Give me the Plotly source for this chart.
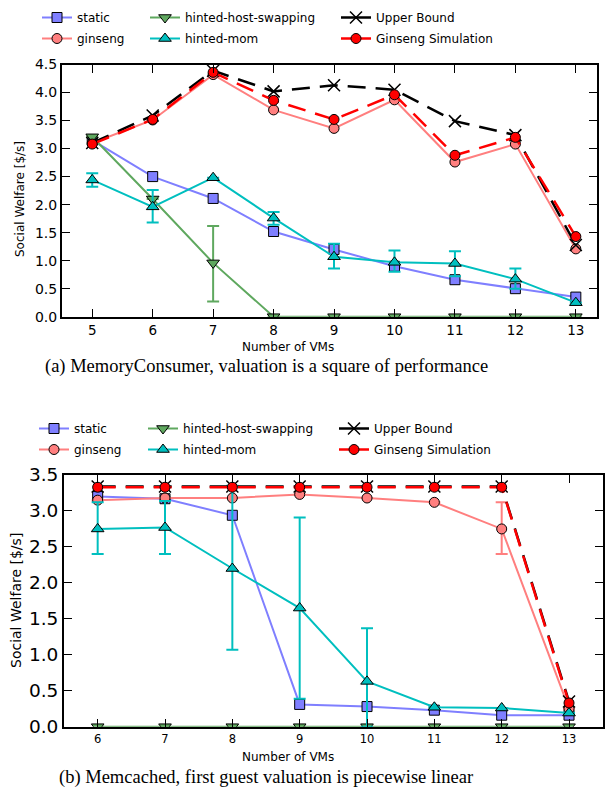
import plotly.graph_objects as go

W, H = 607, 798

# ---------------- data: (a) MemoryConsumer ----------------
vms_a = [5, 6, 7, 8, 9, 10, 11, 12, 13]
static_a = [3.15, 2.50, 2.11, 1.52, 1.20, 0.90, 0.66, 0.50, 0.35]
ginseng_a = [3.10, 3.51, 4.32, 3.69, 3.36, 3.87, 2.76, 3.08, 1.21]
hhs_a = [3.21, 2.10, 0.96, 0.0, 0.0, 0.0, 0.0, 0.0, 0.0]
hhs_a_hi = [3.21, 2.10, 1.62, 0.0, 0.0, 0.0, 0.0, 0.0, 0.0]
hhs_a_lo = [3.21, 2.10, 0.27, 0.0, 0.0, 0.0, 0.0, 0.0, 0.0]
mom_a = [2.44, 1.96, 2.48, 1.76, 1.07, 0.97, 0.95, 0.67, 0.25]
mom_a_hi = [2.56, 2.26, 2.48, 1.87, 1.30, 1.18, 1.17, 0.86, 0.25]
mom_a_lo = [2.32, 1.68, 2.48, 1.64, 0.86, 0.80, 0.72, 0.50, 0.25]
ub_a = [3.10, 3.59, 4.39, 4.02, 4.13, 4.05, 3.49, 3.24, 1.28]
sim_a = [3.08, 3.52, 4.36, 3.86, 3.52, 3.96, 2.88, 3.20, 1.43]

# ---------------- data: (b) Memcached ----------------
vms_b = [6, 7, 8, 9, 10, 11, 12, 13]
static_b = [3.20, 3.17, 2.94, 0.31, 0.28, 0.23, 0.16, 0.16]
ginseng_b = [3.15, 3.18, 3.18, 3.23, 3.18, 3.12, 2.75, 0.25]
ginseng_b_hi = [3.15, 3.18, 3.18, 3.23, 3.18, 3.12, 3.12, 0.25]
ginseng_b_lo = [3.15, 3.18, 3.18, 3.23, 3.18, 3.12, 2.40, 0.25]
hhs_b = [0.0, 0.0, 0.0, 0.0, 0.0, 0.0, 0.0, 0.0]
mom_b = [2.75, 2.77, 2.20, 1.65, 0.63, 0.27, 0.26, 0.19]
mom_b_hi = [3.12, 3.14, 3.35, 2.91, 1.37, 0.27, 0.26, 0.19]
mom_b_lo = [2.40, 2.40, 1.07, 0.39, 0.0, 0.27, 0.26, 0.19]
ub_b = [3.34, 3.34, 3.34, 3.34, 3.34, 3.34, 3.34, 0.35]
sim_b = [3.33, 3.33, 3.33, 3.33, 3.33, 3.33, 3.33, 0.33]

names = ["static", "ginseng", "hinted-host-swapping", "hinted-mom",
         "Upper Bound", "Ginseng Simulation"]
caption_a = "(a) MemoryConsumer, valuation is a square of performance"
caption_b = "(b) Memcached, first guest valuation is piecewise linear"

C_STATIC = "#7f7fff"
C_GINSENG = "#ff7f7f"
C_HHS = "#5fa85f"
C_MOM = "#00bfbf"
C_UB = "#000000"
C_SIM = "#ff0000"

EDGE = dict(color="black", width=1)
styles = [
    dict(line=dict(color=C_STATIC, width=2),
         marker=dict(symbol="square", size=10, color=C_STATIC, line=EDGE)),
    dict(line=dict(color=C_GINSENG, width=2),
         marker=dict(symbol="circle", size=10, color=C_GINSENG, line=EDGE)),
    dict(line=dict(color=C_HHS, width=2),
         marker=dict(symbol="triangle-down", size=11, color=C_HHS, line=EDGE)),
    dict(line=dict(color=C_MOM, width=2),
         marker=dict(symbol="triangle-up", size=11, color=C_MOM, line=EDGE)),
    dict(line=dict(color=C_UB, width=2.5, dash="18px,10px"),
         marker=dict(symbol="x-thin", size=12, color=C_UB, line=dict(color=C_UB, width=1.5))),
    dict(line=dict(color=C_SIM, width=2.5, dash="18px,10px"),
         marker=dict(symbol="circle", size=10, color=C_SIM, line=EDGE)),
]

fig = go.Figure()


def err(y, hi, lo, color):
    return dict(type="data", symmetric=False,
                array=[h - v for h, v in zip(hi, y)],
                arrayminus=[v - l for v, l in zip(y, lo)],
                color=color, thickness=2, width=6)


def add_set(xv, xa, ya, leg_ids, series, errs):
    for i, (yv, e) in enumerate(zip(series, errs)):
        st = styles[i]
        fig.add_trace(go.Scatter(x=xv, y=yv, name=names[i], xaxis=xa, yaxis=ya,
                                 mode="lines+markers", showlegend=False,
                                 line=st["line"], marker=st["marker"], error_y=e))
    # legend-only entries (solid line sample like the reference)
    for i in range(6):
        st = styles[i]
        ln = dict(st["line"])
        ln.pop("dash", None)
        fig.add_trace(go.Scatter(x=[None], y=[None], name=names[i], xaxis=xa, yaxis=ya,
                                 mode="lines+markers", showlegend=True,
                                 legend=leg_ids[i], line=ln, marker=st["marker"]))


add_set(vms_a, "x", "y",
        ["legend", "legend2", "legend3", "legend4", "legend5", "legend6"],
        [static_a, ginseng_a, hhs_a, mom_a, ub_a, sim_a],
        [None, None, err(hhs_a, hhs_a_hi, hhs_a_lo, C_HHS),
         err(mom_a, mom_a_hi, mom_a_lo, C_MOM), None, None])
add_set(vms_b, "x2", "y2",
        ["legend7", "legend8", "legend9", "legend10", "legend11", "legend12"],
        [static_b, ginseng_b, hhs_b, mom_b, ub_b, sim_b],
        [None, err(ginseng_b, ginseng_b_hi, ginseng_b_lo, C_GINSENG), None,
         err(mom_b, mom_b_hi, mom_b_lo, C_MOM), None, None])


def px_x(p):
    return p / W


def px_y(p):
    return 1 - p / H


axis_common = dict(showline=True, linecolor="black", linewidth=2, mirror="allticks",
                   ticks="inside", ticklen=8, tickwidth=1, tickcolor="black",
                   showgrid=False, zeroline=False)

fig.update_layout(
    width=W, height=H, margin=dict(l=0, r=0, t=0, b=0, autoexpand=False),
    paper_bgcolor="white", plot_bgcolor="white",
    font=dict(family="DejaVu Sans", color="black"),
    xaxis=dict(axis_common, domain=[px_x(62), px_x(597)], range=[4.5, 13.35],
               tickvals=vms_a, tickfont=dict(size=13.5), anchor="y"),
    yaxis=dict(axis_common, domain=[px_y(316.7), px_y(64.5)], range=[0, 4.5],
               tickvals=[0, 0.5, 1, 1.5, 2, 2.5, 3, 3.5, 4, 4.5], tickformat=".1f",
               tickfont=dict(size=14), anchor="x"),
    xaxis2=dict(axis_common, domain=[px_x(64), px_x(602.7)], range=[5.5, 13.5],
                tickvals=vms_b, tickfont=dict(size=11.5), anchor="y2"),
    yaxis2=dict(axis_common, domain=[px_y(726.7), px_y(475)], range=[0, 3.5],
                tickvals=[0, 0.5, 1, 1.5, 2, 2.5, 3, 3.5], tickformat=".1f",
                tickfont=dict(size=18.5), anchor="x2"),
)

leg_base = dict(xanchor="left", yanchor="top", orientation="v",
                font=dict(size=12, family="DejaVu Sans"), bgcolor="rgba(0,0,0,0)",
                tracegroupgap=0, itemwidth=30)
# legend columns (left px) and rows (top px)
cols_a = [37, 145, 336]
rows_a = [3, 24]
cols_b = [34, 143, 334]
rows_b = [414, 435]
leg_layout = {}
for i in range(6):
    c, r = i // 2, i % 2
    key_a = "legend" if i == 0 else "legend%d" % (i + 1)
    leg_layout[key_a] = dict(leg_base, x=px_x(cols_a[c]), y=px_y(rows_a[r]))
    leg_layout["legend%d" % (i + 7)] = dict(leg_base, x=px_x(cols_b[c]), y=px_y(rows_b[r]))
fig.update_layout(**leg_layout)

ann = [
    dict(text="Number of VMs", x=px_x(288), y=px_y(347), size=12, angle=0, fam="DejaVu Sans"),
    dict(text="Number of VMs", x=px_x(288), y=px_y(757), size=12, angle=0, fam="DejaVu Sans"),
    dict(text="Social Welfare [$/s]", x=px_x(20), y=px_y(199), size=12, angle=-90, fam="DejaVu Sans"),
    dict(text="Social Welfare [$/s]", x=px_x(16), y=px_y(601), size=14, angle=-90, fam="DejaVu Sans"),
    dict(text=caption_a, x=px_x(266), y=px_y(366), size=18.5, angle=0, fam="Liberation Serif"),
    dict(text=caption_b, x=px_x(266), y=px_y(777), size=18.5, angle=0, fam="Liberation Serif"),
]
for a in ann:
    fig.add_annotation(text=a["text"], x=a["x"], y=a["y"], xref="paper", yref="paper",
                       xanchor="center", yanchor="middle", showarrow=False,
                       textangle=a["angle"],
                       font=dict(size=a["size"], family=a["fam"], color="black"))

fig.write_html("out.html")
